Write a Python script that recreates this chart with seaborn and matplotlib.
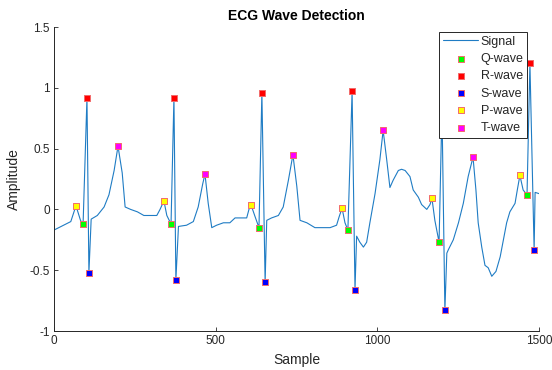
"""ECG wave detection chart: signal trace with detected P/Q/R/S/T points."""

import matplotlib

matplotlib.use("Agg")
import matplotlib.pyplot as plt
import pandas as pd
import seaborn as sns
from matplotlib.ticker import FuncFormatter

# signal trace (sample index, amplitude)
signal_sample = [
    0, 52, 68, 82, 90, 102, 108, 115, 134, 155, 170, 186, 198, 211, 220, 237,
    258, 278, 300, 318, 328, 340, 349, 362, 371, 377, 385, 410, 431, 446, 460,
    467, 477, 488, 503, 524, 544, 560, 580, 596, 603, 609, 622, 634, 643, 653,
    658, 673, 694, 709, 725, 739, 751, 761, 782, 807, 823, 854, 874, 882, 891,
    900, 909, 922, 931, 936, 946, 957, 967, 977, 993, 1008, 1018, 1029, 1039,
    1049, 1065, 1075, 1086, 1101, 1111, 1127, 1137, 1153, 1163, 1169, 1178,
    1191, 1200, 1209, 1215, 1220, 1235, 1251, 1266, 1281, 1296, 1305, 1312,
    1323, 1333, 1343, 1354, 1367, 1380, 1390, 1400, 1410, 1426, 1433, 1441,
    1451, 1463, 1472, 1485, 1488, 1500,
]
signal_amp = [
    -0.17, -0.10, 0.03, -0.09, -0.12, 0.92, -0.52, -0.08, -0.05, 0.02, 0.12,
    0.32, 0.52, 0.30, 0.02, 0.00, -0.02, -0.05, -0.05, -0.05, 0.00, 0.07,
    -0.05, -0.12, 0.92, -0.58, -0.14, -0.13, -0.10, 0.02, 0.21, 0.29, 0.05,
    -0.15, -0.13, -0.11, -0.11, -0.07, -0.07, -0.07, 0.00, 0.04, -0.06, -0.15,
    0.96, -0.60, -0.09, -0.07, -0.05, 0.02, 0.24, 0.45, 0.19, -0.09, -0.11,
    -0.15, -0.15, -0.15, -0.13, -0.06, 0.01, -0.11, -0.17, 0.97, -0.66, -0.22,
    -0.27, -0.31, -0.27, -0.11, 0.13, 0.41, 0.65, 0.41, 0.18, 0.24, 0.32, 0.33,
    0.32, 0.27, 0.16, 0.10, 0.04, 0.00, 0.04, 0.09, -0.09, -0.27, 0.83, -0.83,
    -0.36, -0.33, -0.25, -0.11, 0.05, 0.27, 0.43, 0.16, -0.11, -0.31, -0.46,
    -0.48, -0.55, -0.51, -0.39, -0.25, -0.11, -0.02, 0.05, 0.16, 0.28, 0.16,
    0.12, 1.20, -0.33, 0.14, 0.13,
]

# detected wave points
q_sample = [90, 362, 634, 909, 1191, 1463]
q_amp = [-0.12, -0.12, -0.15, -0.17, -0.27, 0.12]
r_sample = [102, 371, 643, 922, 1200, 1472]
r_amp = [0.92, 0.92, 0.96, 0.97, 0.83, 1.20]
s_sample = [108, 377, 653, 931, 1209, 1485]
s_amp = [-0.52, -0.58, -0.60, -0.66, -0.83, -0.33]
p_sample = [68, 340, 609, 891, 1169, 1441]
p_amp = [0.03, 0.07, 0.04, 0.01, 0.09, 0.28]
t_sample = [198, 467, 739, 1018, 1296]
t_amp = [0.52, 0.29, 0.45, 0.65, 0.43]

waves = [
    ("Q-wave", q_sample, q_amp, "#00ff00"),
    ("R-wave", r_sample, r_amp, "#ff0000"),
    ("S-wave", s_sample, s_amp, "#0000ff"),
    ("P-wave", p_sample, p_amp, "#ffff00"),
    ("T-wave", t_sample, t_amp, "#ff00ff"),
]

sns.set_theme(style="ticks")
plt.rcParams["font.family"] = ["Liberation Sans", "DejaVu Sans"]

fig = plt.figure(figsize=(5.52, 3.70), dpi=100)
ax = fig.add_axes([0.0978, 0.1054, 0.8786, 0.8216])

sig = pd.DataFrame({"Sample": signal_sample, "Amplitude": signal_amp})
sns.lineplot(
    data=sig, x="Sample", y="Amplitude", ax=ax, color="#1f7cc4",
    linewidth=0.8, sort=False, estimator=None, label="Signal",
)
for name, xs, ys, col in waves:
    sns.scatterplot(
        x=xs, y=ys, ax=ax, marker="s", s=20, color=col,
        edgecolor="#f26b6b", linewidth=0.7, label=name, zorder=3,
    )

ax.set_xlim(0, 1500)
ax.set_ylim(-1, 1.5)
ax.set_xticks([0, 500, 1000, 1500])
ax.set_yticks([-1, -0.5, 0, 0.5, 1, 1.5])
ax.yaxis.set_major_formatter(FuncFormatter(lambda v, _: f"{v:g}"))
ax.tick_params(direction="in", length=3, width=0.6, colors="#262626",
               labelsize=8.5, pad=3)
for side in ["top", "right"]:
    ax.spines[side].set_visible(False)
for side in ["left", "bottom"]:
    ax.spines[side].set_color("#262626")
    ax.spines[side].set_linewidth(0.7)

ax.set_xlabel("Sample", fontsize=10, color="#262626", labelpad=4)
ax.set_ylabel("Amplitude", fontsize=10, color="#262626", labelpad=6)
ax.set_title("ECG Wave Detection", fontsize=10, fontweight="bold",
             color="black", pad=5)

leg = ax.legend(
    loc="upper right", bbox_to_anchor=(0.955, 0.9135),
    bbox_transform=fig.transFigure, fontsize=9, frameon=True,
    fancybox=False, edgecolor="#262626", framealpha=1,
    handlelength=2.8, handletextpad=0.2, borderpad=0.3, labelspacing=0.42,
    borderaxespad=0,
)
leg.get_frame().set_linewidth(0.7)

fig.savefig("out.png", dpi=100)
